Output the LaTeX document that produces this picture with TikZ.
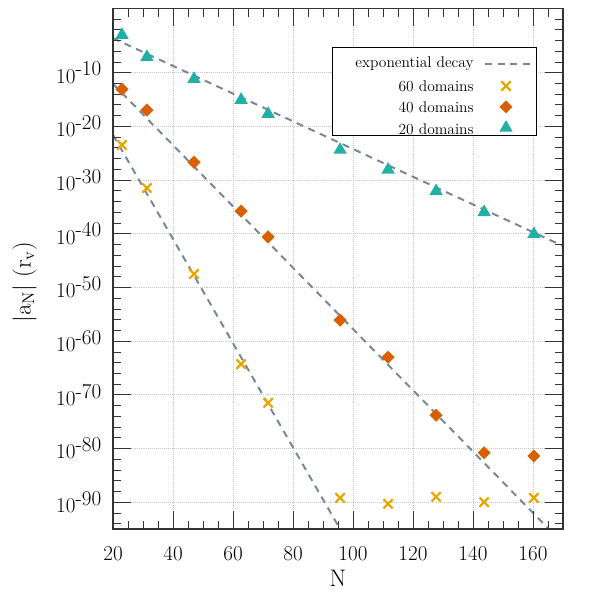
\documentclass[tikz,border=0pt]{standalone}
\usetikzlibrary{shapes.geometric,shapes.misc}
\definecolor{cA}{RGB}{228,168,0}
\definecolor{cB}{RGB}{217,95,2}
\definecolor{cC}{RGB}{32,176,166}
\definecolor{cD}{RGB}{120,135,150}
\tikzset{
 tri/.style={regular polygon,regular polygon sides=3,fill=cC,inner sep=0pt,minimum size=11pt},
 dia/.style={diamond,fill=cB,inner sep=0pt,minimum size=9.5pt},
 crs/.style={cross out,draw=cA,line width=1.6pt,inner sep=0pt,minimum size=5pt},
 fit/.style={draw=cD,line width=1.4pt,dash pattern=on 5pt off 4pt},
 grd/.style={gray!45,densely dotted,line width=0.4pt},
 lab/.style={font=\fontsize{15}{18}\selectfont}
}
\begin{document}
\begin{tikzpicture}[x=0.075cm,y=0.13425cm]
\useasboundingbox (-17.667,-108.22) rectangle (182.33,3.51);
\begin{scope}
\clip (20,-95) rectangle (170,2);
\foreach \x in {40,60,...,160} \draw[grd] (\x,-95) -- (\x,2);
\foreach \y in {-10,-20,...,-90} \draw[grd] (20,\y) -- (170,\y);
\draw[fit] (20,-3.6) -- (170,-42.3);
\draw[fit] (20,-12.1) -- (170,-97.7);
\draw[fit] (20,-21.6) -- (100,-99.2);
\end{scope}
% ticks
\begin{scope}[black!80]
\foreach \x in {20,40,...,160} {\draw (\x,-95) -- ++(0,13pt); \draw (\x,2) -- ++(0,-13pt);}
\foreach \x in {25,30,...,170} {\draw (\x,-95) -- ++(0,6pt); \draw (\x,2) -- ++(0,-6pt);}
\foreach \y in {-10,-20,...,-90} {\draw (20,\y) -- ++(13pt,0); \draw (170,\y) -- ++(-13pt,0);}
\foreach \y in {0,-2,...,-94} {\draw (20,\y) -- ++(6pt,0); \draw (170,\y) -- ++(-6pt,0);}
\draw[line width=0.8pt] (20,-95) rectangle (170,2);
\end{scope}
\foreach \x in {20,40,...,160} \node[lab,anchor=north] (xl\x) at (\x,-97.3) {\x};
\foreach \y in {10,20,...,90} \node[lab,anchor=east] (yl\y) at (18,-\y) {10$^{\textrm{-\y}}$};
\node[lab,font=\fontsize{17}{20}\selectfont] (xt) at (95,-104.2) {N};
\node[lab,rotate=90,font=\fontsize{17}{20}\selectfont] (yt) at (-9.5,-49) {$|\mathrm{a_N}|\ (\mathrm{r_v})$};
% data
\foreach \n/\a/\b/\c [count=\i] in {23/-3.0/-13.1/-23.5,31.3/-7.1/-17.0/-31.5,47/-11.2/-26.7/-47.5,62.7/-15.1/-35.8/-64.3,71.7/-17.7/-40.6/-71.5,95.7/-24.4/-56.1/-89.2,111.7/-28.1/-63.0/-90.3,127.7/-32.1/-73.8/-89.0,143.7/-36.0/-80.8/-90.0,160.3/-40.1/-81.4/-89.2}{
 \node[tri] (t\i) at (\n,\a) {};
 \node[dia] (d\i) at (\n,\b) {};
 \node[crs] (c\i) at (\n,\c) {};
}
% legend
\draw[fill=white,line width=0.6pt] (93.3,-5.4) rectangle (161.3,-21.8);
\foreach \t/\y [count=\i] in {exponential decay/-8.4,60 domains/-12.5,40 domains/-16.4,20 domains/-20.5}
 \node[anchor=east,font=\fontsize{11}{12}\selectfont,inner sep=0pt] (lg\i) at (140.3,\y) {\t};
\coordinate (la) at (144,-8.4); \coordinate (lb) at (160,-8.4);
\draw[fit] (la) -- (lb);
\node[crs] (lc) at (151,-12.5) {};
\node[dia] (ld) at (151,-16.4) {};
\node[tri] (lt) at (151,-20.3) {};
\end{tikzpicture}
\end{document}
